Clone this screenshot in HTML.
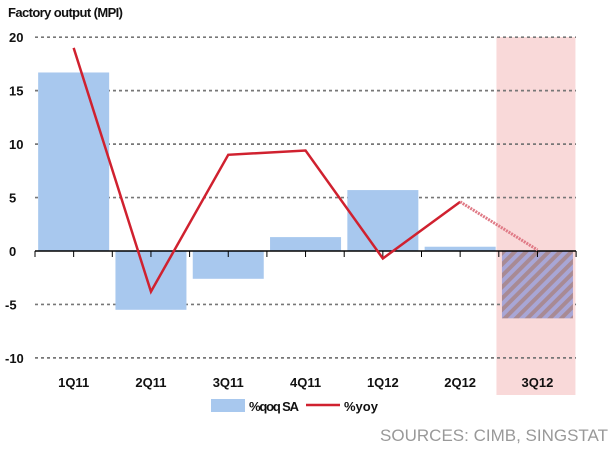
<!DOCTYPE html>
<html><head><meta charset="utf-8"><style>
body{margin:0;background:#fff;width:610px;height:446px;overflow:hidden;font-family:"Liberation Sans",Arial,sans-serif}
</style></head><body>
<svg width="610" height="446">
<defs>
<pattern id="hatch" width="8" height="8" patternUnits="userSpaceOnUse" patternTransform="rotate(45)">
<rect width="8" height="8" fill="#a88a94"/><rect width="4" height="8" fill="#a8a6d6"/>
</pattern>
</defs>
<g id="g"></g>
</svg>
<script>
const categories=["1Q11","2Q11","3Q11","4Q11","1Q12","2Q12","3Q12"];
const qoq=[16.7,-5.5,-2.6,1.3,5.7,0.4,-6.3];
const yoy=[19,-3.8,9.0,9.4,-0.7,4.6,0.1];
const yTicks=[20,15,10,5,0,-5,-10];
const ns="http://www.w3.org/2000/svg";
const g=document.getElementById("g");
const x0=35,step=77.3;
const y=v=>251-v*10.69;
const cx=i=>x0+step*(i+0.5);
function mk(t,a){const e=document.createElementNS(ns,t);for(const k in a)e.setAttribute(k,a[k]);g.appendChild(e);return e;}
let e;
e=mk("text",{x:8,y:17,"font-size":13,"font-weight":"bold",fill:"#111",textLength:115});e.textContent="Factory output (MPI)";


e=mk("rect",{x:cx(6)-41,y:37,width:79,height:358,fill:"#f9d9d9"});


yTicks.forEach(t=>{
 if(t!==0){e=mk("line",{x1:x0,x2:576,y1:y(t),y2:y(t),stroke:"#777","stroke-width":1.7,"stroke-dasharray":"3,3"});
 
 }
 e=mk("text",{x:t<0?5:9,y:y(t)+5,"font-size":13,"font-weight":"bold",fill:"#111"});e.textContent=t;
 
 
});
qoq.forEach((v,i)=>{
 e=mk("rect",{x:cx(i)-35.5,y:Math.min(y(v),y(0)),width:71,height:Math.abs(y(v)-y(0)),fill:i===6?"url(#hatch)":"#a8c8ee"});
 
 
});
e=mk("line",{x1:x0,x2:576,y1:y(0),y2:y(0),stroke:"#000","stroke-width":1.5});


for(let i=0;i<=14;i++){const xx=x0+step*i/2;
 e=mk("line",{x1:xx,x2:xx,y1:y(0),y2:y(0)+6,stroke:"#000","stroke-width":1});
 
 }
categories.forEach((c,i)=>{
 e=mk("text",{x:cx(i),y:387,"text-anchor":"middle","font-size":13,"font-weight":"bold",fill:"#111"});e.textContent=c;
 
 
});
let pts=yoy.slice(0,6).map((v,i)=>cx(i)+","+y(v)).join(" ");
e=mk("polyline",{points:pts,fill:"none",stroke:"#d0212f","stroke-width":2.5});


e=mk("line",{x1:cx(5),y1:y(yoy[5]),x2:cx(6),y2:y(yoy[6]),stroke:"#e07a86","stroke-width":3,"stroke-dasharray":"2,1"});


e=mk("rect",{x:211,y:399,width:34,height:13,fill:"#a8c8ee"});


e=mk("text",{x:249,y:411,"font-size":13,"font-weight":"bold",fill:"#111",textLength:50});e.textContent="%qoq SA";


e=mk("line",{x1:306,x2:340,y1:405,y2:405,stroke:"#d0212f","stroke-width":2.5});


e=mk("text",{x:344,y:411,"font-size":13,"font-weight":"bold",fill:"#111"});e.textContent="%yoy";


e=mk("text",{x:608,y:441,"text-anchor":"end","font-size":17,fill:"#999"});e.textContent="SOURCES: CIMB, SINGSTAT";


</script>
</body></html>
